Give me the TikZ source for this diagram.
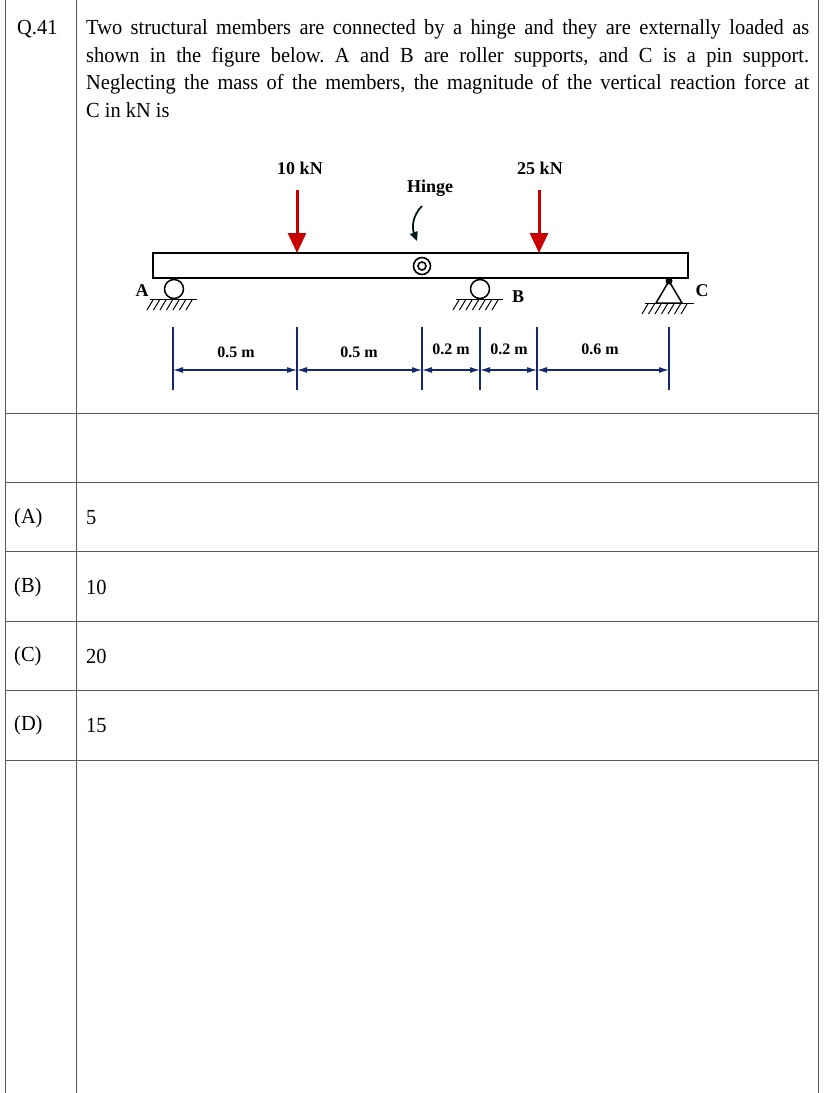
\documentclass[tikz,border=0pt]{standalone}
\usepackage{fontspec}
\setmainfont{Liberation Serif}
\newfontfamily\condfont[FakeStretch=0.95]{Liberation Serif}
\usetikzlibrary{arrows.meta}
\definecolor{loadred}{RGB}{200,0,0}
\definecolor{dimblue}{RGB}{20,40,110}
\tikzset{
  grid/.style={draw=black!65, line width=0.9pt},
  load/.style={loadred, line width=3pt, -{Triangle[width=18pt,length=20pt]}},
  dimline/.style={dimblue, line width=1.2pt},
  dimarr/.style={dimblue, line width=1.1pt, {Latex[length=10pt,width=6pt]}-{Latex[length=10pt,width=6pt]}},
  lbl/.style={font=\fontsize{18}{20}\selectfont\bfseries, inner sep=0pt},
  dlbl/.style={font=\fontsize{16}{18}\selectfont\bfseries, inner sep=0pt},
  txt/.style={font=\condfont\fontsize{21.5}{22}\selectfont\frenchspacing, inner sep=0pt},
  hatch/.style={line width=1pt}
}
\begin{document}
\begin{tikzpicture}[x=1pt,y=-1pt]
\useasboundingbox (0,0) rectangle (830,1093);
% table
\draw[grid] (5,0) -- (5,1093);
\draw[grid] (76,0) -- (76,1093);
\draw[grid] (818,0) -- (818,1093);
\foreach \yy in {413,482,551,621,690,760} \draw[grid] (5,\yy) -- (818,\yy);
\node[txt, anchor=base west] (q) at (17,34) {Q.41};
\node[txt, anchor=base west] (s1) at (86,34) {\makebox[723pt][s]{Two structural members are connected by a hinge and they are externally loaded as}};
\node[txt, anchor=base west] (s2) at (86,62) {\makebox[723pt][s]{shown in the figure below. A and B are roller supports, and C is a pin support.}};
\node[txt, anchor=base west] (s3) at (86,89) {\makebox[723pt][s]{Neglecting the mass of the members, the magnitude of the vertical reaction force at}};
\node[txt, anchor=base west] (s4) at (86,117) {C in kN is};
\node[txt, anchor=west] (oa) at (14,518) {(A)};
\node[txt, anchor=west] (va) at (86,518) {5};
\node[txt, anchor=west] (ob) at (14,587) {(B)};
\node[txt, anchor=west] (vb) at (86,587) {10};
\node[txt, anchor=west] (oc) at (14,656) {(C)};
\node[txt, anchor=west] (vc) at (86,656) {20};
\node[txt, anchor=west] (od) at (14,725) {(D)};
\node[txt, anchor=west] (vd) at (86,725) {15};
% beam
\draw[line width=2.2pt] (153,253) rectangle (688,278);
\coordinate (L1) at (297,253);
\coordinate (L2) at (539,253);
\draw[load] (297,190) -- (L1);
\draw[load] (539,190) -- (L2);
\node[lbl] (l1) at (300,168) {10 kN};
\node[lbl] (l2) at (540,168) {25 kN};
% hinge
\draw[line width=1.6pt] (422,266) circle (8.5);
\draw[line width=1.6pt] (422,266) circle (4);
\node[lbl] (hl) at (430,188) {Hinge};
\draw[black!80!teal, line width=1.8pt, -{Triangle[width=8pt,length=9pt]}] (422,206) .. controls (412,216) and (412,228) .. (417,241);
% roller A
\draw[line width=1.5pt] (174,289) circle (9.5);
\draw[line width=1.3pt] (150,299.5) -- (197,299.5);
\foreach \i in {0,...,6} \draw[hatch] (153+6.5*\i,300) -- (147+6.5*\i,310);
\node[lbl] (A) at (142,291) {A};
% roller B
\draw[line width=1.5pt] (480,289) circle (9.5);
\draw[line width=1.3pt] (456,299.5) -- (503,299.5);
\foreach \i in {0,...,6} \draw[hatch] (459+6.5*\i,300) -- (453+6.5*\i,310);
\node[lbl] (B) at (518,297) {B};
% pin C
\fill (669,281) circle (3.5);
\draw[line width=1.5pt] (669,281) -- (656,303) -- (682,303) -- cycle;
\draw[line width=1.3pt] (645,303.5) -- (694,303.5);
\foreach \i in {0,...,6} \draw[hatch] (648+6.5*\i,304) -- (642+6.5*\i,314);
\node[lbl] (C) at (702,291) {C};
% dimensions
\foreach \xx in {173,297,422,480,537,669} \draw[dimline] (\xx,327) -- (\xx,390);
\draw[dimarr] (173,370) -- (297,370);
\draw[dimarr] (297,370) -- (422,370);
\draw[dimarr] (422,370) -- (480,370);
\draw[dimarr] (480,370) -- (537,370);
\draw[dimarr] (537,370) -- (669,370);
\node[dlbl] (d1) at (236,352) {0.5 m};
\node[dlbl] (d2) at (359,352) {0.5 m};
\node[dlbl] (d3) at (451,349) {0.2 m};
\node[dlbl] (d4) at (509,349) {0.2 m};
\node[dlbl] (d5) at (600,349) {0.6 m};
\end{tikzpicture}
\end{document}
